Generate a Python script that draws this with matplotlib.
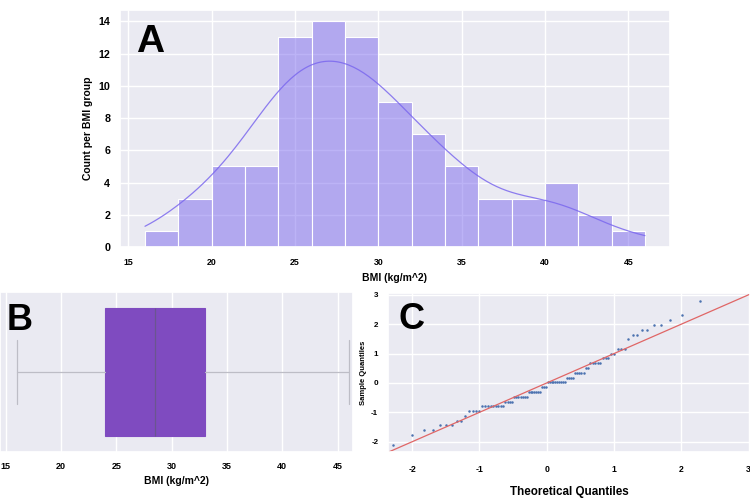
import numpy as np
import matplotlib
matplotlib.use("Agg")
import matplotlib.pyplot as plt
import seaborn as sns
from statistics import NormalDist

bmi_levels = [16, 18, 19, 20, 21, 22, 23, 24, 25, 26, 27, 28, 29, 30, 31,
              32, 33, 34, 35, 36, 38, 39, 40, 41, 42, 43, 46]
bmi_counts = [1, 1, 2, 3, 2, 1, 4, 9, 4, 7, 7, 3, 10, 4, 5,
              2, 5, 3, 2, 3, 1, 2, 2, 2, 1, 1, 1]
bin_edges = list(range(16, 48, 2))

bmi = np.repeat(bmi_levels, bmi_counts).astype(float)

sns.set_theme(style="darkgrid")
plt.rcParams['font.family'] = ['Liberation Sans', 'DejaVu Sans']
plt.rcParams['axes.unicode_minus'] = False
plt.rcParams['text.color'] = 'black'
plt.rcParams['axes.labelcolor'] = 'black'
plt.rcParams['xtick.color'] = 'black'
plt.rcParams['ytick.color'] = 'black'

fig = plt.figure(figsize=(7.5, 5), dpi=100)

# --- A: histogram with KDE
ax_a = fig.add_axes([0.16, 0.506, 0.7333, 0.474])
sns.histplot(bmi, bins=bin_edges, kde=True, color='mediumslateblue', alpha=0.5,
             edgecolor='white', linewidth=0.8, line_kws={'lw': 0.9, 'alpha': 0.85}, ax=ax_a)
ax_a.set_xlim(14.5, 47.5)
ax_a.set_ylim(0, 14.7)
ax_a.set_xticks([15, 20, 25, 30, 35, 40, 45])
ax_a.set_yticks(range(0, 15, 2))
ax_a.tick_params(axis='x', labelsize=6.3, pad=2)
ax_a.tick_params(axis='y', labelsize=7.7, pad=1)
for t in ax_a.get_xticklabels() + ax_a.get_yticklabels():
    t.set_fontweight('bold')
ax_a.set_xlabel('BMI (kg/m^2)', fontsize=7.5, fontweight='bold', labelpad=4)
ax_a.set_ylabel('Count per BMI group', fontsize=7.5, fontweight='bold', labelpad=4)
ax_a.text(0.029, 0.823, 'A', transform=ax_a.transAxes, fontsize=28,
          fontweight='bold', va='baseline')

# --- B: horizontal boxplot
ax_b = fig.add_axes([0.0, 0.096, 0.4707, 0.32])
ax_b.boxplot(bmi, orientation='horizontal', widths=0.8, positions=[0],
             patch_artist=True, showfliers=False,
             boxprops=dict(facecolor='#7f4bc0', edgecolor='#7f4bc0', linewidth=0.8),
             medianprops=dict(color='#6a5590', linewidth=0.9),
             whiskerprops=dict(color='#bdbdc6', linewidth=0.9),
             capprops=dict(color='#bdbdc6', linewidth=0.9),
             capwidths=0.4)
ax_b.set_ylim(0.5, -0.5)
ax_b.set_xlim(14.5, 46.4)
ax_b.set_yticks([])
ax_b.set_xticks([15, 20, 25, 30, 35, 40, 45])
ax_b.tick_params(axis='x', labelsize=6.5, pad=1)
for t in ax_b.get_xticklabels():
    t.set_fontweight('bold')
ax_b.set_xlabel('BMI (kg/m^2)', fontsize=7.5, fontweight='bold', labelpad=4)
ax_b.text(0.02, 0.76, 'B', transform=ax_b.transAxes, fontsize=26,
          fontweight='bold', va='baseline')

# --- C: normal Q-Q plot
n = len(bmi)
theoretical = np.array([NormalDist().inv_cdf(i / (n + 1)) for i in range(1, n + 1)])
sample = np.sort((bmi - bmi.mean()) / bmi.std())

ax_c = fig.add_axes([0.5173, 0.096, 0.4827, 0.318])
ax_c.plot(theoretical, sample, 'o', color='#4c72b0', markersize=1.8,
          markeredgewidth=0)
lims = np.array([-3.0, 3.5])
ax_c.plot(lims, lims, color='#e06666', lw=0.9)
ax_c.set_xlim(-2.36, 3.02)
ax_c.set_ylim(-2.35, 3.06)
ax_c.set_xticks([-2, -1, 0, 1, 2, 3])
ax_c.set_yticks([-2, -1, 0, 1, 2, 3])
ax_c.tick_params(axis='x', labelsize=6.2, pad=3)
ax_c.tick_params(axis='y', labelsize=5.8, pad=1)
for t in ax_c.get_xticklabels() + ax_c.get_yticklabels():
    t.set_fontweight('bold')
ax_c.set_xlabel('Theoretical Quantiles', fontsize=8.4, fontweight='bold', labelpad=9)
ax_c.set_ylabel('Sample Quantiles', fontsize=5.5, fontweight='bold', labelpad=3)
ax_c.text(0.028, 0.774, 'C', transform=ax_c.transAxes, fontsize=26,
          fontweight='bold', va='baseline')

fig.savefig('out.png', dpi=100)
